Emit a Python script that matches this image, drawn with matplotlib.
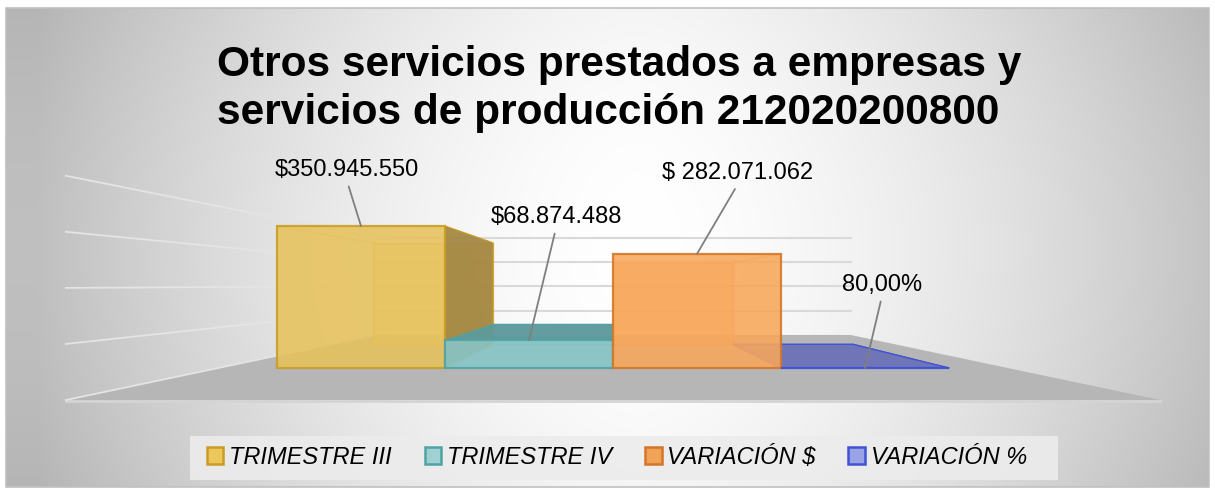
import numpy as np
import matplotlib
matplotlib.use("Agg")
import matplotlib.pyplot as plt
from matplotlib.patches import Polygon, Rectangle

# ---------------- data ----------------
series = ["TRIMESTRE III", "TRIMESTRE IV", "VARIACIÓN $", "VARIACIÓN %"]
values = [350945550, 68874488, 282071062, 0.80]
value_labels = ["$350.945.550", "$68.874.488", "$ 282.071.062", "80,00%"]
gridvalues = [0, 100e6, 200e6, 300e6, 400e6]
title_lines = ["Otros servicios prestados a empresas y",
               "servicios de producción 212020200800"]

# ---------------- styles ----------------
front_c = ["#e7c25c", "#88c6c8", "#f8a75a", "#6c74bd"]
edge_c = ["#c99d22", "#4fa3a7", "#d37628", "#3f52d6"]
side_c = ["#a48843", "#5e9a9c", "#c98440", "#6b72b8"]
legend_fc = ["#ebc75e", "#9fd0d2", "#f1a35a", "#9aa3e6"]
label_off = [(-14, 56), (27, 123), (41, 81), (17, 83)]  # pixels

W, H = 1215, 493
fig = plt.figure(figsize=(W / 100, H / 100), dpi=100)
fig.patch.set_facecolor("white")

# background gradient
bg = fig.add_axes([6 / W, 1 - 487 / H, 1203 / W, 479 / H])
xs = np.linspace(-1, 1, 600)
ys = np.linspace(-1, 1, 250)
X, Y = np.meshgrid(xs, ys)
g = 1 - 0.25 * np.clip(np.abs(X - 0.05) / 1.0, 0, 1) ** 1.6 - 0.04 * Y ** 2
g = np.clip(g, 0, 1)
bg.imshow(np.dstack([g, g, g]), aspect="auto", extent=[0, 1, 0, 1])
bg.set_xlim(0, 1)
bg.set_ylim(0, 1)
bg.axis("off")
fig.patches.append(Rectangle((6 / W, 1 - 487 / H), 1203 / W, 479 / H,
                             transform=fig.transFigure, fill=False,
                             edgecolor="#c0c0c0", lw=1.2))

# main axes with pseudo-3D projection
ax = fig.add_axes([0, 0, 1, 1])
ax.patch.set_alpha(0)
PXU = 168.0          # px per category unit
PXV = 0.4046         # px per million
X0PX, Y0PX = 361.0, 368.0
ax.set_xlim(-X0PX / PXU, (W - X0PX) / PXU)
ax.set_ylim((Y0PX - H) / PXV, Y0PX / PXV)
ax.axis("off")

VX, VY = 1.5, (368 - 285) / PXV
S_F, S_B, S_FL, S_W = 1.0, 0.714, 1.386, 0.602
XL, XR = -0.85, 3.85


def P(x, y, s):
    return (VX + s * (x - VX), VY + s * (y - VY))


# floor
floor = [P(XL, 0, S_FL), P(XR, 0, S_FL), P(XR, 0, S_W), P(XL, 0, S_W)]
ax.add_patch(Polygon(floor, closed=True, fc="#b6b6b6", ec="none", zorder=1))
a, b = P(XL, 0, S_FL), P(XR, 0, S_FL)
ax.plot([a[0], b[0]], [a[1] - 3, b[1] - 3], color="#d4d4d4", lw=2, zorder=1)

# gridlines (back wall and left wall)
for gv in gridvalues:
    v = gv / 1e6
    if v > 0:
        p1, p2 = P(XL, v, S_W), P(XR, v, S_W)
        ax.plot([p1[0], p2[0]], [p1[1], p2[1]], color="#d9d9d9", lw=1.5, zorder=2)
    p1, p2 = P(XL, v, S_FL), P(XL, v, S_W)
    ax.plot([p1[0], p2[0]], [p1[1], p2[1]], color="#e4e4e4", lw=1.3, zorder=2)

hs = [v / 1e6 for v in values]
xc = np.arange(len(values))

# back faces
for i, h in enumerate(hs):
    x0, x1 = i - 0.5, i + 0.5
    pts = [P(x0, 0, S_B), P(x1, 0, S_B), P(x1, h, S_B), P(x0, h, S_B)]
    ax.add_patch(Polygon(pts, closed=True, fc=front_c[i], ec=edge_c[i],
                         lw=1.0, alpha=0.55, zorder=3))
    for (xx, yy) in [(x0, 0), (x1, 0), (x0, h), (x1, h)]:
        p1, p2 = P(xx, yy, S_F), P(xx, yy, S_B)
        ax.plot([p1[0], p2[0]], [p1[1], p2[1]], color=edge_c[i], lw=0.8,
                alpha=0.5, zorder=3)

# side / top faces
for i, h in enumerate(hs):
    x0, x1 = i - 0.5, i + 0.5
    if x1 < VX:
        pts = [P(x1, 0, S_F), P(x1, 0, S_B), P(x1, h, S_B), P(x1, h, S_F)]
        ax.add_patch(Polygon(pts, closed=True, fc=side_c[i], ec=edge_c[i],
                             lw=0.8, alpha=0.95, zorder=4))
    if x0 > VX and h > 1:
        pts = [P(x0, 0, S_F), P(x0, 0, S_B), P(x0, h, S_B), P(x0, h, S_F)]
        ax.add_patch(Polygon(pts, closed=True, fc=side_c[i], ec=edge_c[i],
                             lw=0.8, alpha=0.95, zorder=4))
    if h < VY:
        pts = [P(x0, h, S_F), P(x1, h, S_F), P(x1, h, S_B), P(x0, h, S_B)]
        ax.add_patch(Polygon(pts, closed=True, fc=side_c[i], ec=edge_c[i],
                             lw=1.0, alpha=0.95, zorder=5))

# front faces
bars = ax.bar(xc, hs, width=1.0, color=front_c, edgecolor=edge_c, lw=1.6,
              alpha=0.88, zorder=6)
for r in bars:
    r.set_edgecolor(r.get_edgecolor()[:3] + (1.0,))

# data labels
for i, h in enumerate(hs):
    ax.annotate(value_labels[i], xy=(xc[i], h), xytext=label_off[i],
                textcoords="offset pixels", ha="center", va="center",
                fontsize=17, family="Liberation Sans", color="black",
                arrowprops=dict(arrowstyle="-", color="#7f7f7f", lw=1.3,
                                relpos=(0.5, 0.0), shrinkA=2, shrinkB=0),
                zorder=8)

# title (two lines, left edges aligned as in the reference)
for k, (line, base) in enumerate(zip(title_lines, [76, 124])):
    fig.text(217 / W, 1 - base / H, line, ha="left", va="baseline",
             fontsize=30.5, fontweight="bold", family="Liberation Sans")

# legend
lg_box = Rectangle((190 / W, 1 - 480 / H), 868 / W, 44 / H,
                   transform=fig.transFigure, fc="#ececec", ec="none", alpha=0.9)
fig.patches.append(lg_box)
handles = [Rectangle((0, 0), 1, 1, fc=legend_fc[i], ec=edge_c[i], lw=1.8)
           for i in range(len(series))]
leg = fig.legend(handles, series, loc="center", bbox_to_anchor=(617 / W, 1 - 457 / H),
                 ncol=4, frameon=False, handlelength=0.7, handleheight=0.7,
                 handletextpad=0.25, columnspacing=1.38,
                 prop={"family": "Liberation Sans", "style": "italic", "size": 17})

fig.savefig("out.png", dpi=100)
